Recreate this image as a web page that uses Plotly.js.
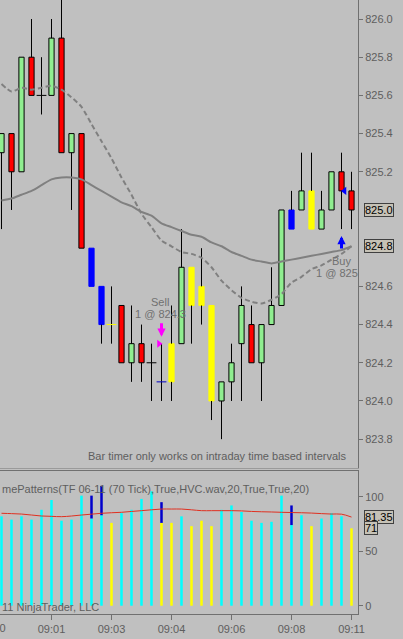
<!DOCTYPE html>
<html><head><meta charset="utf-8">
<script src="https://cdn.plot.ly/plotly-3.0.1.min.js"></script>
<style>html,body{margin:0;padding:0;background:#C0C0C0;overflow:hidden}#chart{width:403px;height:639px}</style>
</head><body><div id="chart"></div><script>
// ---- price bars (70 tick) ----
const open  = [825.3,825.4,825.2,825.8,825.6,825.6,825.9,825.3,825.4,824.8,824.6,824.4,824.5,824.2,824.3,824.2,824.1,824.3,824.3,824.7,824.6,824.5,824.0,824.1,824.3,824.4,824.2,824.4,824.5,824.9,825.0,825.1,824.9,825.0,825.2,825.1];
const high  = [825.4,825.4,825.8,826.0,825.8,826.0,826.2,825.4,825.4,824.8,824.6,824.6,824.5,824.5,824.4,824.3,824.3,824.5,824.9,824.7,824.8,824.5,824.1,824.3,824.6,824.5,824.4,824.7,825.0,825.1,825.3,825.3,825.1,825.2,825.3,825.2];
const low   = [824.9,825.0,825.2,825.6,825.5,825.6,825.3,825.0,824.8,824.6,824.3,824.3,824.2,824.1,824.1,824.0,824.0,824.0,824.3,824.3,824.4,823.9,823.8,824.0,824.0,824.2,824.0,824.4,824.5,824.9,825.0,824.9,824.9,825.0,824.9,824.9];
const close = [825.4,825.2,825.8,825.6,825.6,825.9,825.3,825.4,824.8,824.6,824.4,824.4,824.2,824.3,824.2,824.2,824.1,824.1,824.7,824.5,824.5,824.0,824.1,824.2,824.5,824.2,824.4,824.5,825.0,825.0,825.1,824.9,825.0,825.2,825.1,825.0];
// pattern signal per bar: '' normal, 'climax' (blue), 'low' (yellow)
const candleSignal = ['','','','','','','','','','climax','climax','low','','','','','climax','low','','low','low','low','','','','','','','','climax','','low','','','',''];
// moving averages
const maSolid  = [825.05,825.06,825.08,825.10,825.13,825.16,825.17,825.17,825.16,825.13,825.10,825.07,825.04,825.02,824.99,824.97,824.93,824.91,824.89,824.87,824.86,824.83,824.81,824.78,824.76,824.74,824.73,824.72,824.73,824.74,824.75,824.76,824.77,824.78,824.79,824.81];
const maDashed = [825.66,825.62,825.64,825.63,825.64,825.65,825.63,825.59,825.54,825.45,825.36,825.27,825.17,825.08,824.98,824.91,824.84,824.81,824.78,824.77,824.75,824.70,824.63,824.58,824.54,824.52,824.51,824.53,824.56,824.62,824.65,824.69,824.71,824.74,824.77,824.81];
// volume panel
const volume     = [82,79,82,79,88,97,78,79,101,101,110,76,85,88,98,105,95,76,82,73,78,73,88,92,86,78,76,77,101,92,83,73,80,85,82,71];
const volSignal  = ['','','','','','','','','','','','low','','','','','low','low','','low','low','low','','','','','','','','','','low','','','','low'];
const climaxFrom = [null,null,null,null,null,null,null,null,null,80,83,null,null,null,null,null,76,null,null,null,null,null,null,null,null,null,null,null,null,74,null,null,null,null,null,null];
const volAvg     = [84.8,84.5,84.1,83.2,82.3,82.0,81.7,82.3,83.2,84.0,84.8,85.3,85.7,86.5,87.2,88.0,88.7,88.7,88.7,88.0,87.2,87.2,87.2,87.2,87.0,86.5,86.2,86.0,85.7,85.5,85.3,85.0,84.5,84.1,84.0,81.35];
// time axis
const tickBars   = [-1,5,11,17,23,29,35];
const tickLabels = ['09:00','09:01','09:03','09:04','09:06','09:08','09:11'];
// executions
const execBar   = [16,34];
const execPrice = [824.3,825.1];
const execSide  = ['Sell','Buy'];
const execText  = ['1 @ 824.3','1 @ 825'];

const bars = open.map((_, i) => i);
const COL = {up:'#90EE90', down:'#FF0000', climax:'#0000FF', low:'#FFFF00', doji:'#000000'};
function cls(i){ if(candleSignal[i]) return candleSignal[i]; if(open[i]===close[i]) return 'doji'; return close[i]>open[i]?'up':'down'; }

const XR = [-0.15, 35.65];
const PW = 358; // plot width px
const FONT = 'Liberation Sans, Arial, sans-serif';
const TXT = '#5E5E5E';

// wicks (upper + lower segments, outside the body)
const wx=[], wy=[];
bars.forEach(i=>{
  const top=Math.max(open[i],close[i]), bot=Math.min(open[i],close[i]);
  if(high[i]>top){ wx.push(i,i,null); wy.push(top,high[i],null); }
  if(low[i]<bot){ wx.push(i,i,null); wy.push(low[i],bot,null); }
});
const body = bars.filter(i=>open[i]!==close[i]);
const doji = bars.filter(i=>open[i]===close[i]);

const traces = [];
traces.push({type:'scatter', mode:'lines', x:wx, y:wy, xaxis:'x2', yaxis:'y', line:{color:'#000', width:1}, hoverinfo:'skip', showlegend:false});
traces.push({type:'bar', x:body, base:body.map(i=>Math.min(open[i],close[i])), y:body.map(i=>Math.abs(close[i]-open[i])),
  xaxis:'x2', yaxis:'y', width:0.52,
  marker:{color:body.map(i=>COL[cls(i)]), line:{width:1, color:body.map(i=>{const c=cls(i);return (c==='up'||c==='down')?'#000':COL[c];})}},
  showlegend:false});
traces.push({type:'scatter', mode:'markers', x:doji, y:doji.map(i=>open[i]), xaxis:'x2', yaxis:'y',
  marker:{symbol:'line-ew', size:7, line:{width:1, color:doji.map(i=>{const c=cls(i);return c==='climax'?'#0000C0':COL[c];})}}, showlegend:false});
traces.push({type:'scatter', mode:'lines', x:bars, y:maSolid, xaxis:'x2', yaxis:'y', line:{color:'#808080', width:2, shape:'spline', smoothing:0.6}, showlegend:false});
traces.push({type:'scatter', mode:'lines', x:bars, y:maDashed, xaxis:'x2', yaxis:'y', line:{color:'#808080', width:2, dash:'5px,3px', shape:'spline', smoothing:0.6}, showlegend:false});
// execution markers
traces.push({type:'scatter', mode:'markers', x:execBar.map((b,k)=>execSide[k]==='Sell'?b-0.25:b+0.3), y:execPrice, xaxis:'x2', yaxis:'y',
  marker:{symbol:execSide.map(s=>s==='Sell'?'triangle-right':'triangle-left'), size:7, color:execSide.map(s=>s==='Sell'?'#FF00FF':'#0000FF')}, showlegend:false});

// price tags pointers
const lastClose = close[close.length-1], lastMA = maSolid[maSolid.length-1];
const tagX = 35.95;
traces.push({type:'scatter', mode:'markers', x:[tagX,tagX], y:[lastClose,lastMA], xaxis:'x2', yaxis:'y', cliponaxis:false,
  marker:{symbol:'triangle-left', size:9, color:'#C6C2B6', line:{color:'#404040', width:1}}, showlegend:false});

// volume
const volMain = bars.map(i=>climaxFrom[i]!==null?climaxFrom[i]:volume[i]);
traces.push({type:'bar', x:bars, y:volMain, xaxis:'x', yaxis:'y2', width:0.25,
  marker:{color:bars.map(i=>volSignal[i]==='low'?'#FFFF00':'#00FFFF'), line:{width:0}}, showlegend:false});
const cb = bars.filter(i=>climaxFrom[i]!==null);
traces.push({type:'bar', x:cb, base:cb.map(i=>climaxFrom[i]), y:cb.map(i=>volume[i]-climaxFrom[i]), xaxis:'x', yaxis:'y2', width:0.25,
  marker:{color:'#0000CD', line:{width:0}}, showlegend:false});
traces.push({type:'scatter', mode:'lines', x:bars, y:volAvg, xaxis:'x', yaxis:'y2', line:{color:'#E03020', width:1, shape:'spline'}, showlegend:false});
const lastVol = volume[volume.length-1], lastAvg = volAvg[volAvg.length-1];
traces.push({type:'scatter', mode:'markers', x:[tagX,tagX], y:[lastAvg,lastVol], xaxis:'x', yaxis:'y2', cliponaxis:false,
  marker:{symbol:'triangle-left', size:9, color:'#C6C2B6', line:{color:'#404040', width:1}}, showlegend:false});

const annotations = [];
const tagPaperX = 364/PW;
function tag(v, txt, yref){ annotations.push({xref:'paper', x:tagPaperX, xanchor:'left', yref:yref, y:v, text:txt, showarrow:false,
  bgcolor:'#C6C2B6', bordercolor:'#404040', borderwidth:1, borderpad:0, font:{family:FONT, size:11, color:'#000'}}); }
tag(lastClose, lastClose.toFixed(1), 'y');
tag(lastMA, lastMA.toFixed(1), 'y');
tag(lastAvg, lastAvg.toFixed(2), 'y2');
tag(lastVol, String(lastVol), 'y2');

execBar.forEach((b,k)=>{
  const sell = execSide[k]==='Sell';
  const col = sell?'#FF00FF':'#0000FF';
  annotations.push({xref:'x2', yref:'y', x:b, y:execPrice[k], yshift: sell?7:-45, text:'', showarrow:true, arrowhead:2, arrowsize:0.55, arrowwidth:3, arrowcolor:col, ax:0, ay: sell?-15:14, standoff:0, startstandoff:0});
  annotations.push({xref:'x2', yref:'y', x:b, y:execPrice[k], xshift: sell?-1.5:0, yshift: sell?42:-70, text:execSide[k], showarrow:false, font:{family:FONT, size:11, color:'#707070'}});
  annotations.push({xref:'x2', yref:'y', x:b, y:execPrice[k], xshift: sell?-1.5:-5, yshift: sell?30:-82, text:execText[k], showarrow:false, font:{family:FONT, size:11, color:'#707070'}});
});
annotations.push({xref:'paper', x:348/PW, xanchor:'right', yref:'y', y:823.712, text:'Bar timer only works on intraday time based intervals', showarrow:false, font:{family:FONT, size:11, color:TXT}});
annotations.push({xref:'paper', x:0, xanchor:'left', yref:'y2', y:107, text:'mePatterns(TF 06-11 (70 Tick),True,HVC.wav,20,True,True,20)', showarrow:false, font:{family:FONT, size:11, color:TXT}});
annotations.push({xref:'paper', x:0, xanchor:'left', yref:'y2', y:-1.5, text:'11 NinjaTrader, LLC', showarrow:false, font:{family:FONT, size:11, color:TXT}});
// clipped first time label (cut by the left edge, as in the source)
annotations.push({xref:'paper', x:(tickBars[0]-XR[0])/(XR[1]-XR[0]), xanchor:'center', yref:'paper', y:0, yanchor:'top', yshift:-6, text:tickLabels[0], showarrow:false, font:{family:FONT, size:11, color:TXT}});

const priceTicks = [823.8,824.0,824.2,824.4,824.6,825.2,825.4,825.6,825.8,826.0];
const H = 614;
const layout = {
  width:403, height:639, margin:{l:0, r:45, t:0, b:25},
  paper_bgcolor:'#C0C0C0', plot_bgcolor:'#C0C0C0', showlegend:false, barmode:'overlay',
  font:{family:FONT, size:11, color:TXT},
  xaxis:{domain:[0,1], anchor:'y2', range:XR, tickvals:tickBars, ticktext:tickLabels, ticks:'outside', ticklen:5, tickcolor:'#707070',
    showline:true, linecolor:'#707070', mirror:true, showgrid:false, zeroline:false, tickfont:{family:FONT, size:11, color:TXT}},
  xaxis2:{domain:[0,1], anchor:'y', range:XR, matches:'x', showticklabels:false, ticks:'', showline:true, linecolor:'#9A9A9A', showgrid:false, zeroline:false},
  yaxis:{domain:[(H-468)/H,1], anchor:'x2', side:'right', range:[823.649,826.0995], tickvals:priceTicks, ticktext:priceTicks.map(v=>v.toFixed(1)),
    ticks:'outside', ticklen:4, tickcolor:'#707070', showline:true, linecolor:'#707070', showgrid:false, zeroline:false, tickfont:{family:FONT, size:11, color:TXT}},
  yaxis2:{domain:[0,(H-471)/H], anchor:'x', side:'right', range:[-7.6,123.6], tickvals:[0,50,100], ticks:'outside', ticklen:4, tickcolor:'#707070',
    showline:true, linecolor:'#707070', showgrid:false, zeroline:false, tickfont:{family:FONT, size:11, color:TXT}},
  annotations:annotations
};
Plotly.newPlot('chart', traces, layout, {staticPlot:true, displayModeBar:false});
</script></body></html>
